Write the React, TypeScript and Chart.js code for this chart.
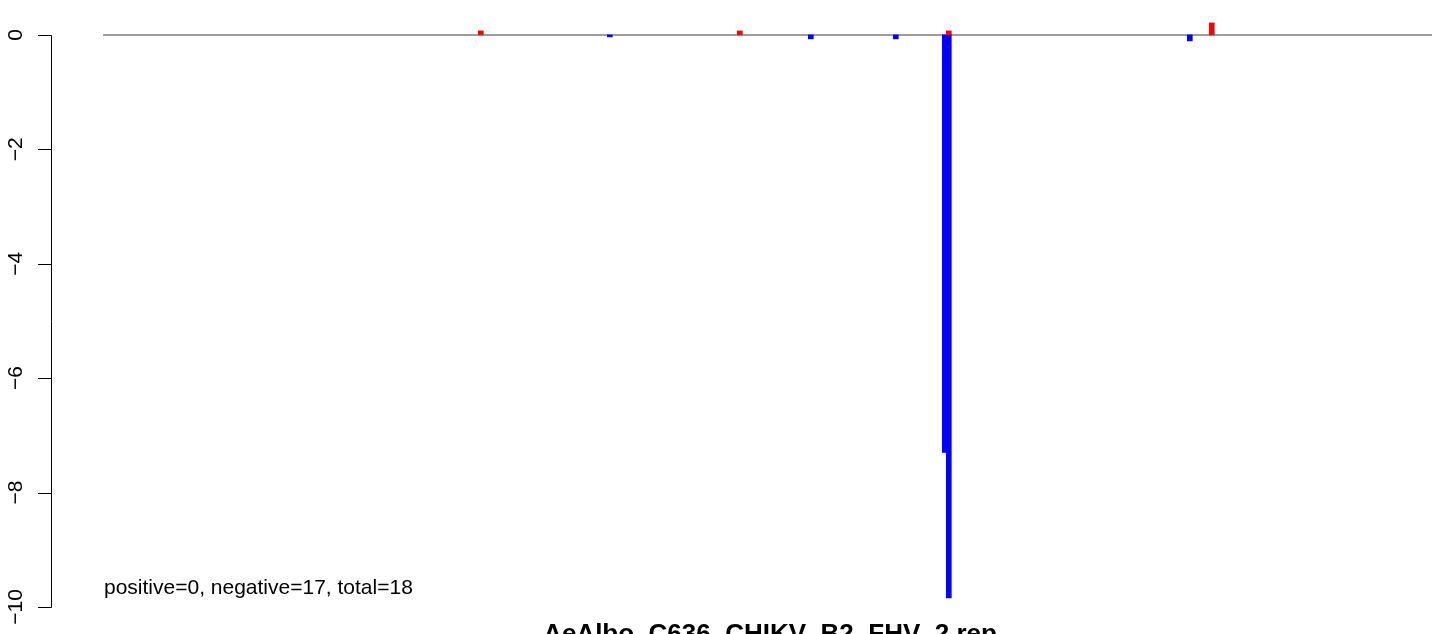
import React, { useEffect, useRef } from "react";
import { Chart, registerables } from "chart.js";

Chart.register(...registerables);

// Positions along the sequence (plot units) and read values
const senseX = [376.5, 635.5, 844.5, 1107.5];
const senseY = [0.07, 0.07, 0.07, 0.21];
const antisenseX = [505.5, 706.5, 791.5, 840.5, 844.5, 1085.5];
const antisenseY = [-0.035, -0.07, -0.07, -7.3, -9.84, -0.105];

const baselineX = [-1.3, 1327.7];
const baselineY = [0, 0];

const yTicks = [0, -2, -4, -6, -8, -10];
const xRange = [-53.3, 1384.7];
const yRange = [-10.28, 0.61];

const summaryText = "positive=0, negative=17, total=18";
const titleText = "AeAlbo_C636_CHIKV_B2_FHV_2 rep";

const fmt = (v: number) => (v < 0 ? "\u2212" + Math.abs(v) : String(v));

const rAxisPlugin = {
  id: "rAxis",
  afterDraw(chart: any) {
    const ctx = chart.ctx;
    const y = chart.scales.y;
    const area = chart.chartArea;
    const ax = area.left;
    ctx.save();
    ctx.strokeStyle = "#000";
    ctx.lineWidth = 1;
    ctx.beginPath();
    const y0 = Math.round(y.getPixelForValue(yTicks[0])) + 0.5;
    const y1 = Math.round(y.getPixelForValue(yTicks[yTicks.length - 1])) + 0.5;
    ctx.moveTo(ax + 0.5, y0);
    ctx.lineTo(ax + 0.5, y1);
    for (const t of yTicks) {
      const py = Math.round(y.getPixelForValue(t)) + 0.5;
      ctx.moveTo(ax + 0.5, py);
      ctx.lineTo(ax - 13, py);
    }
    ctx.stroke();
    ctx.fillStyle = "#000";
    ctx.font = "21px 'Liberation Sans', Arial, sans-serif";
    ctx.textAlign = "center";
    ctx.textBaseline = "alphabetic";
    for (const t of yTicks) {
      const py = y.getPixelForValue(t);
      ctx.save();
      ctx.translate(22, py);
      ctx.rotate(-Math.PI / 2);
      ctx.fillText(fmt(t), 0, 0);
      ctx.restore();
    }
    // summary text
    ctx.textAlign = "left";
    ctx.textBaseline = "middle";
    ctx.font = "21px 'Liberation Sans', Arial, sans-serif";
    ctx.fillText(summaryText, 104, 588);
    // title at bottom
    ctx.textAlign = "center";
    ctx.textBaseline = "alphabetic";
    ctx.font = "bold 26px 'Liberation Sans', Arial, sans-serif";
    ctx.fillText(titleText, (area.left + area.right) / 2, 642);
    ctx.restore();
  },
};

export default function App() {
  const ref = useRef<HTMLCanvasElement | null>(null);
  useEffect(() => {
    if (!ref.current) return;
    const chart = new Chart(ref.current, {
      type: "bar",
      data: {
        datasets: [
          {
            type: "line",
            label: "baseline",
            data: baselineX.map((x, i) => ({ x, y: baselineY[i] })),
            borderColor: "#9e9e9e",
            borderWidth: 2,
            pointRadius: 0,
            order: 3,
          } as any,
          {
            label: "sense",
            data: senseX.map((x, i) => ({ x, y: senseY[i] })),
            backgroundColor: "#ff0000",
            borderWidth: 0,
            barThickness: 5,
            grouped: false,
            order: 1,
          },
          {
            label: "antisense",
            data: antisenseX.map((x, i) => ({ x, y: antisenseY[i] })),
            backgroundColor: "#0000ff",
            borderWidth: 0,
            barThickness: 5,
            grouped: false,
            order: 2,
          },
        ],
      },
      options: {
        responsive: false,
        animation: false,
        layout: { padding: { left: 51, right: 11, top: 0, bottom: 37 } },
        plugins: { legend: { display: false }, tooltip: { enabled: false } },
        scales: {
          x: {
            type: "linear",
            min: xRange[0],
            max: xRange[1],
            offset: false,
            display: false,
          },
          y: {
            type: "linear",
            min: yRange[0],
            max: yRange[1],
            display: false,
          },
        },
      } as any,
      plugins: [rAxisPlugin],
    });
    return () => chart.destroy();
  }, []);
  return (
    <div
      style={{
        position: "fixed",
        left: 0,
        top: 0,
        width: 1444,
        height: 634,
        overflow: "hidden",
        background: "#fff",
      }}
    >
      <canvas ref={ref} width={1500} height={660} style={{ display: "block" }} />
    </div>
  );
}
